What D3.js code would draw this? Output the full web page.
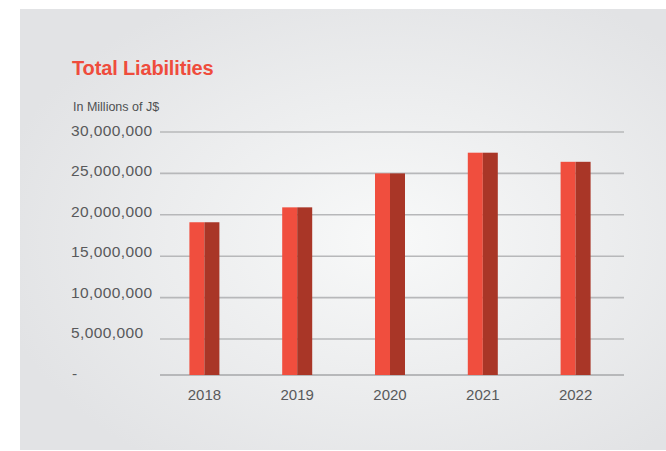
<!DOCTYPE html>
<html>
<head>
<meta charset="utf-8">
<script src="https://cdn.jsdelivr.net/npm/d3@7"></script>
<style>
  html, body { margin: 0; padding: 0; background: #fff; }
  svg { display: block; font-family: "Liberation Sans", Arial, sans-serif; }
</style>
</head>
<body>
<svg id="chart" width="666" height="451"></svg>
<script>
const years = ["2018", "2019", "2020", "2021", "2022"];
const liabilities = [19100000, 20900000, 25000000, 27500000, 26400000];
const yTicks = [0, 5000000, 10000000, 15000000, 20000000, 25000000, 30000000];
const yTickLabels = ["-", "5,000,000", "10,000,000", "15,000,000", "20,000,000", "25,000,000", "30,000,000"];

const width = 666, height = 451;
const svg = d3.select("#chart");

// background panel with soft radial light
const defs = svg.append("defs");
const grad = defs.append("radialGradient")
  .attr("id", "bg")
  .attr("cx", "57%").attr("cy", "52%").attr("r", "62%");
grad.append("stop").attr("offset", "0%").attr("stop-color", "#f8f9f9");
grad.append("stop").attr("offset", "100%").attr("stop-color", "#e2e3e5");

svg.append("rect")
  .attr("x", 20).attr("y", 9)
  .attr("width", width - 20).attr("height", 441)
  .attr("fill", "url(#bg)");

// gridlines in the source sit closer together at the bottom, so use a polylinear scale
const y = d3.scaleLinear()
  .domain([0, 5000000, 30000000])
  .range([375, 339, 132]);
// tick labels are evenly spaced
const yLab = d3.scaleLinear().domain([0, 30000000]).range([378.6, 136]);

const x = d3.scalePoint().domain(years).range([158, 622]).padding(0.5);
const barW = 30;

// gridlines
svg.append("g").selectAll("line")
  .data(yTicks)
  .join("line")
  .attr("x1", 160).attr("x2", 624)
  .attr("y1", d => y(d)).attr("y2", d => y(d))
  .attr("stroke", "#b7b8ba")
  .attr("stroke-width", d => d === 0 ? 2 : 1.6);

// y labels
svg.append("g").selectAll("text")
  .data(yTicks)
  .join("text")
  .attr("x", d => d === 0 ? 72 : 71)
  .attr("y", d => yLab(d))
  .attr("fill", "#58595b")
  .attr("font-size", "15.5px")
  .attr("letter-spacing", "0.4px")
  .text((d, i) => yTickLabels[i]);

// bars: two-tone halves
const bars = svg.append("g").selectAll("g")
  .data(years.map((yr, i) => ({ yr, v: liabilities[i] })))
  .join("g");

bars.append("rect")
  .attr("x", d => x(d.yr) - barW / 2)
  .attr("y", d => y(d.v))
  .attr("width", barW / 2)
  .attr("height", d => y(0) - y(d.v))
  .attr("fill", "#f04e3e");

bars.append("rect")
  .attr("x", d => x(d.yr))
  .attr("y", d => y(d.v))
  .attr("width", barW / 2)
  .attr("height", d => y(0) - y(d.v))
  .attr("fill", "#a93627");

// x labels
svg.append("g").selectAll("text")
  .data(years)
  .join("text")
  .attr("x", d => x(d))
  .attr("y", 399.5)
  .attr("text-anchor", "middle")
  .attr("fill", "#58595b")
  .attr("font-size", "15px")
  .text(d => d);

// titles
svg.append("text")
  .attr("x", 72).attr("y", 75)
  .attr("fill", "#ef4c3c")
  .attr("font-size", "20px")
  .attr("font-weight", "bold")
  .attr("letter-spacing", "-0.15px")
  .text("Total Liabilities");

svg.append("text")
  .attr("x", 73).attr("y", 111)
  .attr("fill", "#4f5052")
  .attr("font-size", "12.5px")
  .text("In Millions of J$");
</script>
</body>
</html>
